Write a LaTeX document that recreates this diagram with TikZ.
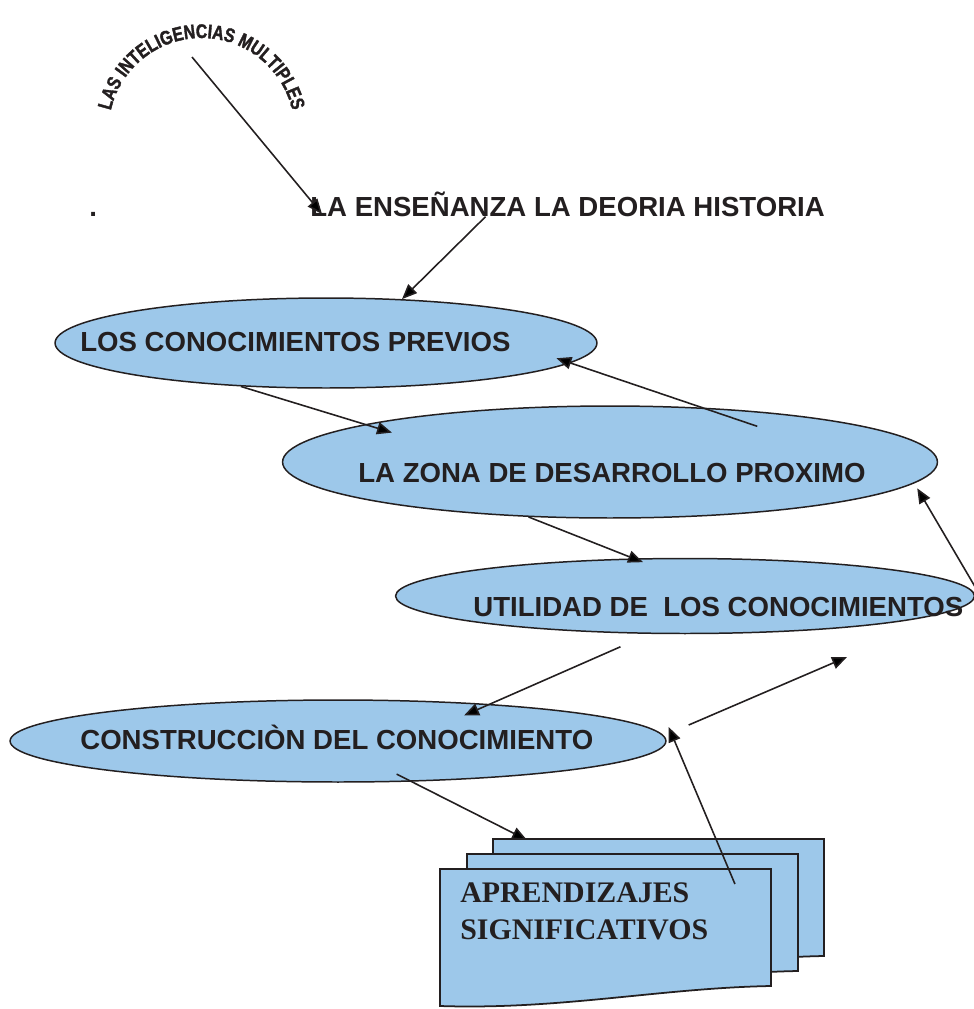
\documentclass[tikz,border=0pt]{standalone}
\usepackage{fontspec}
\setmainfont{Liberation Serif}
\setsansfont{Liberation Sans}
\newfontfamily\arcofont{Liberation Sans}[FakeStretch=0.8, FakeBold=1.8]
\usepackage{xcolor}
\usepackage{tikz}
\usetikzlibrary{positioning, arrows.meta, shapes.geometric, decorations.text}
\definecolor{celeste}{RGB}{157,200,234}
\definecolor{tinta}{RGB}{35,31,32}
\tikzset{
  burbuja/.style={ellipse, draw=tinta, fill=celeste, line width=0.85pt, inner sep=0pt},
  rotulo/.style={anchor=base west, inner sep=0pt, text=tinta, font=\sffamily\bfseries\fontsize{15.7}{18}\selectfont},
  flecha/.style={draw=tinta, line width=0.9pt, -{Triangle[length=8.5pt,width=7pt]}},
  pliego/.style={draw=tinta, fill=celeste, line width=1pt}
}

\begin{document}
\begin{tikzpicture}[x=0.02cm, y=0.02cm]
    \useasboundingbox (0,0) rectangle (974,-1009);
    \coordinate (centro) at (201.5,-131);
    \path[decorate, decoration={text along path, text align=center, text color=tinta,
        text={|\arcofont\bfseries\fontsize{11.2}{12}\selectfont|LAS INTELIGENCIAS MULTIPLES}}]
        ([shift={(168:93)}]centro) arc[start angle=168, end angle=12, radius=93];
    \node[burbuja, minimum width=10.84cm, minimum height=1.8cm] (prev) at (326,-343) {};
    \node[burbuja, minimum width=13.1cm, minimum height=2.24cm] (zona) at (610,-462) {};
    \node[burbuja, minimum width=11.58cm, minimum height=1.5cm] (util) at (685,-596) {};
    \node[burbuja, minimum width=13.12cm, minimum height=1.64cm] (constr) at (338,-741) {};
    \coordinate (hoja) at (440,-869);
    \foreach \dx/\dy in {53/30, 27/15, 0/0}
        \filldraw[pliego] ([shift={(\dx,\dy)}]hoja) -- ++(331,0) -- ++(0,-117)
            .. controls +(-110,-2) and +(120,-4) .. ++(-331,-20) -- cycle;
    \node[rotulo] (punto) at (89,-216) {.};
    \node[rotulo] (titulo) at (310,-216) {LA ENSEÑANZA LA DEORIA HISTORIA};
    \node[rotulo] (prevtxt) at (80,-351) {LOS CONOCIMIENTOS PREVIOS};
    \node[rotulo] (zonatxt) at (358,-482) {LA ZONA DE DESARROLLO PROXIMO};
    \node[rotulo] (utiltxt) at (473,-616) {UTILIDAD DE\ \ LOS CONOCIMIENTOS};
    \node[rotulo] (constrtxt) at (80,-749) {CONSTRUCCIÒN DEL CONOCIMIENTO};
    \node[anchor=base west, align=left, inner sep=0pt, text=tinta,
        font=\bfseries\fontsize{17}{20.5}\selectfont] (aprend) at (460,-939) {APRENDIZAJES\\SIGNIFICATIVOS};
    \coordinate (arco) at (192,-57);
    \coordinate (libre) at (847,-657);
    \draw[flecha] (arco) -- ([xshift=0.24cm, yshift=0.04cm]titulo.base west);
    \draw[flecha] ([xshift=-1.64cm]titulo.south) -- (prev.30);
    \draw[flecha] (prev.-153) -- ([yshift=-0.26cm]zona.169);
    \draw[flecha] ([yshift=-0.3cm]zona.19) -- ([yshift=0.18cm]prev.-6);
    \draw[flecha] (zona.-146) -- ([yshift=-0.08cm]util.138);
    \draw[flecha] ([yshift=0.18cm]util.east) -- ([xshift=0.06cm, yshift=-0.1cm]zona.-4);
    \draw[flecha] ([yshift=-0.27cm]util.-150) -- ([yshift=-0.26cm]constr.17);
    \draw[flecha] ([xshift=0.44cm, yshift=0.32cm]constr.east) -- (libre);
    \draw[flecha] ([yshift=0.16cm]constr.-35) -- ([xshift=1.74cm, yshift=0.58cm]hoja);
    \draw[flecha] ([xshift=5.9cm, yshift=-0.3cm]hoja) -- ([xshift=0.04cm, yshift=0.28cm]constr.east);
\end{tikzpicture}
\end{document}
